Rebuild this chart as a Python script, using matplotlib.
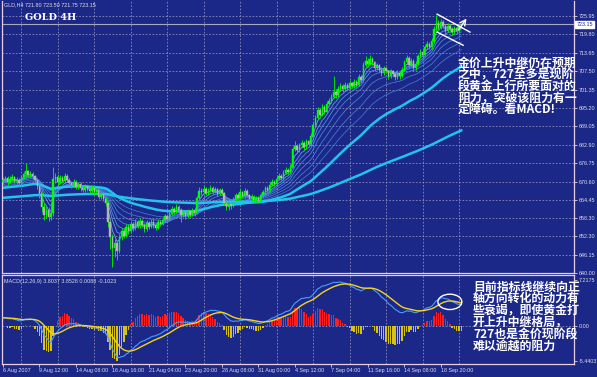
import numpy as np
import matplotlib
matplotlib.use("Agg")
import matplotlib.pyplot as plt
from matplotlib.patches import Ellipse

# ---------------- data ----------------
first_open = 670.5
closes = [671.0, 671.8, 670.5, 671.5, 672.0, 670.8, 671.2, 670.0, 672.0, 673.0,
          674.0, 672.8, 673.2, 672.3, 671.0, 669.0, 666.5, 662.0, 659.5, 661.0,
          658.8, 660.0, 671.5, 672.0, 670.5, 671.8, 670.8, 672.5, 671.0, 670.2,
          669.5, 670.5, 668.8, 669.8, 668.5, 667.8, 669.0, 668.2, 667.5, 668.5,
          667.0, 667.8, 665.5, 666.5, 664.8, 663.5, 657.0, 652.0, 648.5, 650.0,
          647.5, 652.0, 654.0, 652.5, 655.5, 654.0, 656.5, 655.0, 657.0, 655.8,
          657.5, 656.0, 654.8, 656.8, 655.5, 657.2, 656.0, 655.2, 657.0, 656.5,
          657.8, 659.0, 658.2, 660.0, 661.5, 660.5, 662.0, 661.0, 659.5, 660.5,
          659.0, 660.8, 659.5, 661.0, 660.0, 665.0, 667.5, 667.0, 668.2, 666.8,
          667.5, 668.5, 667.2, 668.0, 666.5, 667.8, 666.8, 663.5, 662.0, 663.0,
          662.5, 664.5, 666.0, 665.0, 667.0, 665.8, 667.5, 666.0, 664.8, 665.5,
          664.5, 665.0, 664.2, 666.0, 667.0, 668.5, 667.8, 669.5, 670.5, 669.8,
          671.5, 672.5, 671.8, 673.5, 674.5, 673.8, 675.5, 681.5, 682.5, 681.0,
          682.8, 683.5, 682.0, 684.0, 683.0, 686.0, 689.5, 692.0, 694.5, 693.0,
          695.5, 694.0, 696.5, 697.5, 699.0, 700.5, 699.5, 701.5, 702.5, 701.5,
          703.0, 702.0, 703.5, 702.5, 704.0, 703.0, 705.5, 704.5, 709.5, 711.0,
          710.0, 711.5, 710.5, 708.5, 709.5, 708.0, 707.0, 708.5, 707.5, 706.0,
          707.5, 706.5, 705.5, 707.0, 706.0, 708.0, 710.5, 712.0, 709.5, 711.0,
          708.5, 710.0, 712.5, 714.0, 713.0, 715.5, 716.5, 715.5, 717.5, 721.5,
          723.5, 722.0, 724.0, 722.5, 721.0, 722.8, 721.5, 720.5, 722.0, 721.0,
          722.5, 723.15]
highs = [672.0, 672.6, 672.3, 672.4, 673.0, 672.6, 672.0, 671.8, 672.8, 673.8,
         676.8, 674.6, 674.0, 673.8, 672.8, 671.5, 669.8, 667.0, 663.5, 662.5,
         662.0, 661.5, 675.4, 673.5, 673.0, 672.8, 672.5, 673.5, 673.0, 671.8,
         670.8, 671.3, 671.0, 670.6, 670.4, 669.2, 669.8, 669.6, 668.9, 669.4,
         669.0, 668.6, 668.2, 667.4, 667.0, 665.4, 664.0, 657.8, 653.0, 651.5,
         651.0, 653.0, 655.2, 655.0, 656.5, 656.3, 657.5, 657.2, 658.0, 657.8,
         658.5, 658.2, 656.8, 657.6, 657.4, 658.0, 657.9, 656.8, 657.9, 657.8,
         658.6, 659.8, 659.7, 660.8, 662.5, 662.2, 663.0, 662.8, 661.6, 661.2,
         661.0, 661.5, 661.2, 661.8, 661.6, 665.8, 668.8, 668.5, 669.0, 668.8,
         668.4, 669.3, 669.0, 668.8, 668.5, 668.6, 668.4, 667.2, 664.2, 663.8,
         663.8, 665.3, 666.8, 666.6, 668.0, 667.6, 668.4, 668.0, 666.5, 666.3,
         666.0, 665.8, 665.6, 666.8, 667.8, 669.2, 669.0, 670.3, 671.3, 671.0,
         672.3, 673.3, 673.0, 674.3, 675.5, 675.0, 676.5, 682.3, 684.0, 683.0,
         683.6, 684.5, 684.0, 684.8, 684.6, 687.0, 690.5, 693.0, 695.5, 695.2,
         696.5, 696.2, 697.5, 698.5, 700.0, 706.0, 701.5, 702.5, 703.5, 703.2,
         704.0, 703.6, 704.5, 704.0, 705.0, 704.6, 706.5, 706.2, 710.5, 712.5,
         711.8, 713.0, 712.2, 711.0, 710.3, 710.0, 708.8, 709.3, 709.0, 708.0,
         708.4, 708.0, 707.2, 707.8, 707.6, 708.8, 711.3, 713.0, 712.5, 711.8,
         711.5, 710.8, 713.3, 715.0, 714.8, 716.3, 717.5, 717.2, 718.5, 722.5,
         726.3, 724.5, 725.0, 724.8, 723.2, 723.6, 723.4, 722.2, 722.8, 722.6,
         723.3, 723.8]
lows = [669.8, 670.4, 669.6, 670.0, 670.9, 670.0, 669.8, 669.2, 669.6, 671.5,
        672.5, 672.0, 672.0, 671.6, 670.2, 668.0, 665.0, 660.5, 657.8, 658.5,
        657.5, 657.6, 659.0, 670.0, 669.5, 669.8, 670.0, 670.2, 670.3, 669.4,
        668.6, 668.9, 668.0, 668.2, 667.6, 667.0, 667.2, 667.4, 666.8, 666.9,
        666.2, 666.3, 664.8, 664.9, 664.0, 662.5, 655.5, 648.0, 642.0, 645.5,
        644.5, 646.8, 651.0, 651.6, 652.0, 653.2, 653.5, 654.0, 654.5, 655.0,
        655.2, 655.3, 653.8, 654.2, 654.8, 655.0, 655.2, 654.4, 654.8, 655.8,
        656.0, 657.2, 657.5, 657.8, 659.4, 659.8, 660.0, 660.2, 657.0, 658.8,
        658.2, 658.5, 658.8, 659.0, 659.2, 659.6, 664.5, 666.2, 666.5, 666.0,
        666.2, 667.0, 666.5, 666.6, 665.8, 666.0, 666.0, 662.8, 661.0, 661.2,
        661.5, 662.0, 664.0, 664.3, 664.5, 665.0, 665.2, 665.3, 664.0, 664.2,
        663.8, 663.9, 663.5, 663.8, 665.4, 666.5, 667.0, 667.2, 669.0, 669.0,
        669.2, 671.0, 671.0, 671.2, 673.0, 673.0, 673.3, 675.0, 680.8, 680.2,
        680.5, 682.0, 681.2, 681.5, 682.2, 682.6, 685.5, 689.0, 691.5, 692.0,
        692.5, 693.2, 693.5, 695.8, 697.0, 698.5, 698.6, 699.0, 701.0, 700.6,
        701.0, 701.2, 701.5, 701.8, 702.0, 702.2, 702.6, 703.8, 704.0, 709.0,
        709.0, 709.5, 709.6, 707.6, 707.8, 707.2, 706.0, 706.4, 706.8, 705.0,
        705.4, 705.8, 704.5, 705.0, 705.0, 705.5, 707.5, 710.0, 708.5, 709.0,
        707.8, 708.0, 709.5, 712.0, 712.2, 712.6, 715.0, 714.8, 715.0, 717.0,
        721.0, 721.2, 721.5, 721.8, 720.0, 720.5, 720.8, 719.6, 720.0, 720.3,
        720.6, 722.0]

# moving-average ribbon (EMA spans and starting values at the left edge)
ribbon_spans = [4, 7, 10, 14, 20, 28, 38]
ribbon_seeds = [671.0, 670.9, 670.7, 670.4, 670.0, 669.5, 669.0]
thick_spans = [60, 200]
thick_seeds = [668.4, 665.1]

# MACD(12,26,9)
macd_fast, macd_slow, macd_signal = 12, 26, 9
macd_seeds = [670.6, 669.2, 1.3]
hist_scale = 2.5

tick_bars = [0, 16, 32, 48, 64, 80, 96, 112, 128, 144, 160, 176, 192]
tick_labels = ["6 Aug 2007", "9 Aug 12:00", "14 Aug 08:00", "16 Aug 16:00",
               "21 Aug 04:00", "23 Aug 20:00", "28 Aug 08:00", "31 Aug 00:00",
               "4 Sep 12:00", "7 Sep 04:00", "11 Sep 16:00", "14 Sep 08:00",
               "18 Sep 20:00"]
price_ticks = [725.95, 719.80, 713.65, 707.50, 701.35, 695.20, 689.05, 682.90,
               676.75, 670.60, 664.45, 658.30, 652.30, 646.15, 640.00]
last_price = 723.15
macd_ticks = [7.2175, 0.0, -5.4403]
macd_tick_labels = ["7.2175", "0.00", "-5.4403"]

# channel annotation (bar index, price)
chan_upper = ([190.4, 204.8], [726.6, 720.6])
chan_lower = ([190.4, 201.8], [720.6, 716.2])
arrow_from = (199.1, 720.6)
arrow_to = (204.0, 725.9)

text_main = ["金价上升中继仍在预期", "之中，727至多是现阶", "段黄金上行所要面对的",
             "阻力，突破该阻力有一", "定障碍。看MACD!"]
text_macd = ["目前指标线继续向正", "轴方向转化的动力有", "些衰竭，即使黄金打",
             "开上升中继格局，", "727也是金价现阶段", "难以逾越的阻力"]

# ---------------- helpers ----------------
def ema(values, span, seed):
    a = 2.0 / (span + 1.0)
    out = np.empty(len(values))
    prev = seed
    for i, v in enumerate(values):
        prev = prev + a * (v - prev)
        out[i] = prev
    return out

C = np.array(closes)
Hh = np.array(highs)
Ll = np.array(lows)
O = np.r_[first_open, C[:-1]]
n = len(C)
idx = np.arange(n)

W, H = 597, 377
BG = "#1c2888"
GRID = "#8a8cb8"
FRAME = "#e6cede"
TXT = "#dcdce8"
SMALL = dict(family="Liberation Sans", fontsize=3.9)

def fr(l, t, r, b):
    return [l / W, 1 - b / H, (r - l) / W, (b - t) / H]

fig = plt.figure(figsize=(W / 100, H / 100), dpi=100)
fig.patch.set_facecolor(BG)
ax = fig.add_axes(fr(2, 1, 574, 273))
ax2 = fig.add_axes(fr(2, 275, 574, 364), sharex=ax)

bar_px0, bar_w = 3.0, 2.28
xlim = ((2 - bar_px0) / bar_w, (574 - bar_px0) / bar_w)

for a in (ax, ax2):
    a.set_facecolor(BG)
    for s in a.spines.values():
        s.set_color(FRAME)
        s.set_linewidth(0.9)
ax.spines["top"].set_visible(False)

# ---------------- main panel ----------------
ax.set_xlim(*xlim)
ax.set_ylim(640.0, 731.0)
for p in price_ticks[:-1]:
    ax.axhline(p, color=GRID, lw=0.6, ls=(0, (2, 2)), zorder=1)
for t in tick_bars:
    ax.axvline(t + 8, color=GRID, lw=0.6, ls=(0, (2, 2)), zorder=1)
    ax2.axvline(t + 8, color=GRID, lw=0.6, ls=(0, (2, 2)), zorder=1)
ax.axhline(last_price, color="#a8a8b8", lw=0.8, zorder=1)

ribbon_cols = ["#7fb2ff", "#6aa2f4", "#5a94ea", "#4f8ae0", "#4a86dc", "#4680d6", "#427ad0"]
for sp, sd, col in zip(ribbon_spans, ribbon_seeds, ribbon_cols):
    ax.plot(idx, ema(C, sp, sd), color=col, lw=0.6, alpha=0.9, zorder=2)
for sp, sd in zip(thick_spans, thick_seeds):
    ax.plot(idx, ema(C, sp, sd), color="#22c4ee", lw=1.8, zorder=2)

up = C >= O
ax.vlines(idx, Ll, Hh, color="#00e400", lw=0.7, zorder=3)
ax.bar(idx[up], (C - O)[up], bottom=O[up], width=0.6, color="#00ff00",
       edgecolor="#00ff00", lw=0.3, zorder=4)
ax.bar(idx[~up], (O - C)[~up], bottom=C[~up], width=0.6, color="#b4b4b4",
       edgecolor="#b4b4b4", lw=0.3, zorder=4)

ax.plot(*chan_upper, color="white", lw=1.0, zorder=5)
ax.plot(*chan_lower, color="white", lw=1.0, zorder=5)
ax.annotate("", xy=arrow_to, xytext=arrow_from,
            arrowprops=dict(arrowstyle="->", color="white", lw=1.0), zorder=5)

ax.yaxis.tick_right()
ax.set_yticks(price_ticks)
ax.set_yticklabels(["%.2f" % p for p in price_ticks], **SMALL)
ax.tick_params(axis="y", length=2, width=0.6, color=FRAME, labelcolor=TXT, pad=1.2)
ax.tick_params(axis="x", bottom=False, labelbottom=False)
ax.text(1.004, last_price, "%.2f" % last_price, transform=ax.get_yaxis_transform(),
        color="#1c2888", va="center", ha="left", zorder=6,
        bbox=dict(boxstyle="square,pad=0.15", fc="white", ec="white"), **SMALL)

# ---------------- MACD panel ----------------
ema_f = ema(C, macd_fast, macd_seeds[0])
ema_s = ema(C, macd_slow, macd_seeds[1])
macd = ema_f - ema_s
sig = ema(macd, macd_signal, macd_seeds[2])
hist = (macd - sig) * hist_scale

ax2.set_ylim(-5.91, 8.0)
ax2.axhline(0, color=GRID, lw=0.6, ls=(0, (2, 2)), zorder=1)
pos = hist >= 0
ax2.bar(idx[pos], hist[pos], width=0.6, color="#ff1e1e", zorder=2)
ax2.bar(idx[~pos], hist[~pos], width=0.6, color="#d6c21a", zorder=2)
ax2.plot(idx, macd, color="#4a9cff", lw=0.8, zorder=3)
ax2.plot(idx, sig, color="#f4d41c", lw=1.0, zorder=4)
ax2.add_patch(Ellipse((196, 3.8), 10.5, 2.4, fill=False, ec="white", lw=1.0, zorder=5))

ax2.yaxis.tick_right()
ax2.set_yticks(macd_ticks)
ax2.set_yticklabels(macd_tick_labels, **SMALL)
ax2.tick_params(axis="y", length=2, width=0.6, color=FRAME, labelcolor=TXT, pad=1.2)
ax2.set_xticks(tick_bars)
ax2.set_xticklabels(tick_labels, ha="left", **SMALL)
ax2.tick_params(axis="x", length=2, width=0.6, color=FRAME, labelcolor=TXT, pad=1.2)

# ---------------- texts ----------------
def ftext(x, y, s, **kw):
    fig.text(x / W, 1 - y / H, s, **kw)

ftext(4, 5, "GLD,H4 721.80 723.50 721.75 723.15", color=TXT, va="center", **SMALL)
ftext(25, 17, "GOLD 4H", fontsize=7, color="white", family="DejaVu Serif",
      weight="bold", va="center")
ftext(4, 281, "MACD(12,26,9) 3.8037 3.8528 0.0088 -0.1023", color=TXT,
      va="center", **SMALL)

cjk = ["Noto Sans CJK SC", "DejaVu Sans"]
for i, s in enumerate(text_main):
    ftext(458, 63 + i * 11.6, s, fontsize=8.6, color="white", family=cjk,
          weight="bold", va="center")
for i, s in enumerate(text_macd):
    ftext(473, 287 + i * 11.8, s, fontsize=8.6, color="white", family=cjk,
          weight="bold", va="center")

fig.savefig("out.png", dpi=100, facecolor=BG)
